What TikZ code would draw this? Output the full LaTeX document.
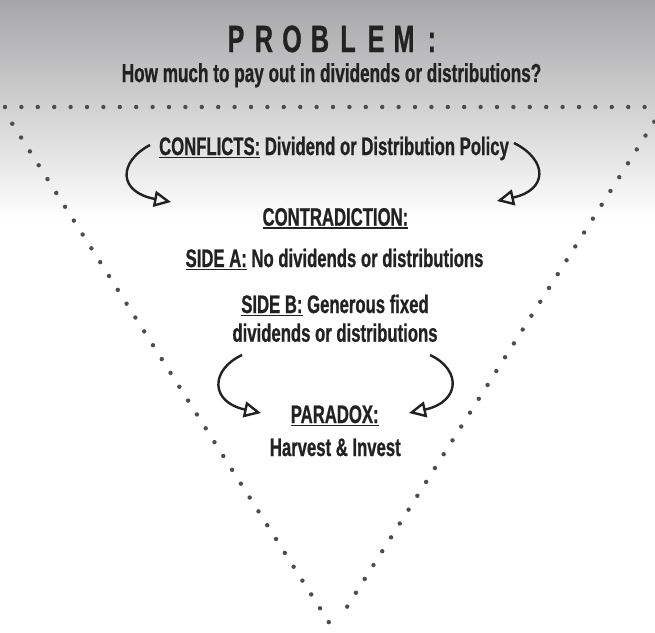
\documentclass[tikz,border=0pt]{standalone}
\usepackage{fontspec}
\setmainfont{Liberation Sans}[FakeStretch=0.66, BoldFeatures={FakeBold=0.8}]
\usetikzlibrary{arrows.meta}
\definecolor{ink}{HTML}{222222}
\definecolor{dotc}{HTML}{4D4D4F}
\definecolor{topgray}{RGB}{166,166,168}
\newcommand\myul[1]{\setbox0\hbox{#1}\rlap{\rule[-3.2pt]{\wd0}{1.5pt}}\box0\relax}
\newcommand\pl[1]{\makebox[28pt]{#1}}
\begin{document}
\begin{tikzpicture}[x=1pt,y=-1pt,
  txt/.style={font=\fontsize{25.3}{28}\selectfont\bfseries, text=ink, anchor=base, inner sep=0pt},
  dots/.style={dotc, line width=4.4pt, line cap=round, dash pattern=on 0pt off 16.4pt},
  curv/.style={ink, line width=2.4pt, -{Triangle[open, length=17pt, width=16pt, line width=2.4pt]}}]
\useasboundingbox (0,0) rectangle (655,632);
\fill[white] (0,0) rectangle (655,632);
\shade[top color=topgray, bottom color=white] (0,0) rectangle (655,220);
% dotted triangle
\draw[dots] (5,107) -- (652,107);
\draw[dots] (12.3,123.7) -- (332.7,628.3);
\draw[dots] (654.3,121.7) -- (339.3,619);
% texts
\node[txt, font=\fontsize{38}{40}\selectfont\bfseries] (problem) at (334,52)
  {\pl{P}\pl{R}\pl{O}\pl{B}\pl{L}\pl{E}\pl{M}\pl{:}};
\node[txt, font=\fontsize{26}{28}\selectfont\bfseries] (question) at (331.5,82)
  {How much to pay out in dividends or distributions?};
\node[txt] (conflicts) at (334,155) {\myul{CONFLICTS:} Dividend or Distribution Policy};
\node[txt] (contra) at (335.4,225.7) {\myul{CONTRADICTION:}};
\node[txt] (sidea) at (334.5,267) {\myul{SIDE A:} No dividends or distributions};
\node[txt] (sideb) at (335,313) {\myul{SIDE B:} Generous fixed};
\node[txt] (sideb2) at (335,341.7) {dividends or distributions};
\node[txt] (paradox) at (334.7,423) {\myul{PARADOX:}};
\node[txt] (harvest) at (335.3,456) {Harvest \& Invest};
% arrows
\coordinate (a1s) at (150,145); \coordinate (a1e) at (171,202);
\coordinate (a2s) at (514,143); \coordinate (a2e) at (497,201);
\coordinate (a3s) at (242,355); \coordinate (a3e) at (261,413);
\coordinate (a4s) at (430,355); \coordinate (a4e) at (409,413);
\draw[curv] (a1s) .. controls (118,162) and (118,192) .. (a1e);
\draw[curv] (a2s) .. controls (548,160) and (548,190) .. (a2e);
\draw[curv] (a3s) .. controls (210,370) and (210,402) .. (a3e);
\draw[curv] (a4s) .. controls (462,370) and (460,402) .. (a4e);
\end{tikzpicture}
\end{document}
